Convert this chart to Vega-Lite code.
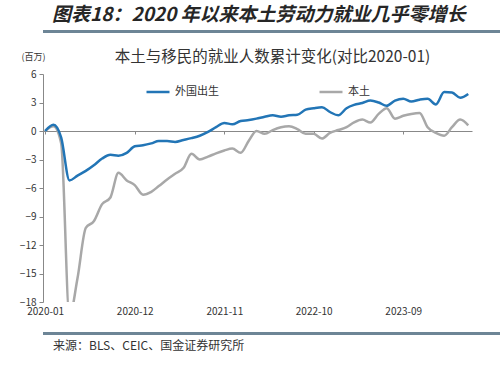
{
  "$schema": "https://vega.github.io/schema/vega-lite/v6.json",
  "background": "white",
  "padding": {"left": 0, "top": 6, "right": 5, "bottom": 5},
  "spacing": 16,
  "resolve": {"scale": {"color": "independent"}, "legend": {"color": "independent"}},
  "config": {
    "font": "Noto Sans CJK SC"
  },
  "vconcat": [
    {
      "width": 495,
      "height": 3,
      "data": {"values": [{"x0": 0, "x1": 1}]},
      "view": {"stroke": null, "fill": "#6d8596"},
      "title": {"text": "图表18：2020 年以来本土劳动力就业几乎零增长", "anchor": "start", "frame": "group", "dx": 9, "fontSize": 19, "fontWeight": "bold", "fontStyle": "italic", "color": "#262626", "offset": 5},
      "mark": {"type": "rect", "color": "#6d8596"},
      "encoding": {
        "x": {"field": "x0", "type": "quantitative", "scale": {"domain": [0, 1], "nice": false}, "axis": null},
        "x2": {"field": "x1"}
      }
    },
    {
      "width": 429,
      "height": 228,
      "view": {"stroke": null},
      "data": {"values": [
        {"m": "2020-01-01", "本土": 0, "外国出生": 0},
        {"m": "2020-02-01", "本土": 0.5, "外国出生": 0.65},
        {"m": "2020-03-01", "本土": -1.3, "外国出生": -0.7},
        {"m": "2020-04-01", "本土": -19.5, "外国出生": -5.2},
        {"m": "2020-05-01", "本土": -15.5, "外国出生": -4.7},
        {"m": "2020-06-01", "本土": -10.2, "外国出生": -4.2},
        {"m": "2020-07-01", "本土": -9.5, "外国出生": -3.6},
        {"m": "2020-08-01", "本土": -7.7, "外国出生": -2.9},
        {"m": "2020-09-01", "本土": -7.0, "外国出生": -2.5},
        {"m": "2020-10-01", "本土": -4.4, "外国出生": -2.6},
        {"m": "2020-11-01", "本土": -5.2, "外国出生": -2.3},
        {"m": "2020-12-01", "本土": -5.7, "外国出生": -1.6},
        {"m": "2021-01-01", "本土": -6.7, "外国出生": -1.5},
        {"m": "2021-02-01", "本土": -6.4, "外国出生": -1.3},
        {"m": "2021-03-01", "本土": -5.8, "外国出生": -1.05},
        {"m": "2021-04-01", "本土": -5.1, "外国出生": -1.05},
        {"m": "2021-05-01", "本土": -4.5, "外国出生": -1.15},
        {"m": "2021-06-01", "本土": -3.9, "外国出生": -0.95},
        {"m": "2021-07-01", "本土": -2.4, "外国出生": -0.75},
        {"m": "2021-08-01", "本土": -3.0, "外国出生": -0.5},
        {"m": "2021-09-01", "本土": -2.7, "外国出生": -0.1},
        {"m": "2021-10-01", "本土": -2.35, "外国出生": 0.4},
        {"m": "2021-11-01", "本土": -2.05, "外国出生": 0.85},
        {"m": "2021-12-01", "本土": -1.85, "外国出生": 0.7},
        {"m": "2022-01-01", "本土": -2.3, "外国出生": 1.05},
        {"m": "2022-02-01", "本土": -1.0, "外国出生": 1.15},
        {"m": "2022-03-01", "本土": 0.0, "外国出生": 1.3},
        {"m": "2022-04-01", "本土": -0.3, "外国出生": 1.5},
        {"m": "2022-05-01", "本土": 0.1, "外国出生": 1.65},
        {"m": "2022-06-01", "本土": 0.4, "外国出生": 1.5},
        {"m": "2022-07-01", "本土": 0.5, "外国出生": 1.65},
        {"m": "2022-08-01", "本土": 0.2, "外国出生": 1.7},
        {"m": "2022-09-01", "本土": -0.3, "外国出生": 2.25},
        {"m": "2022-10-01", "本土": -0.3, "外国出生": 2.4},
        {"m": "2022-11-01", "本土": -0.8, "外国出生": 2.5},
        {"m": "2022-12-01", "本土": -0.2, "外国出生": 2.0},
        {"m": "2023-01-01", "本土": 0.1, "外国出生": 1.65},
        {"m": "2023-02-01", "本土": 0.4, "外国出生": 2.4},
        {"m": "2023-03-01", "本土": 0.9, "外国出生": 2.75},
        {"m": "2023-04-01", "本土": 1.2, "外国出生": 2.95},
        {"m": "2023-05-01", "本土": 0.9, "外国出生": 3.2},
        {"m": "2023-06-01", "本土": 1.8, "外国出生": 3.0},
        {"m": "2023-07-01", "本土": 2.4, "外国出生": 2.65},
        {"m": "2023-08-01", "本土": 1.3, "外国出生": 3.2},
        {"m": "2023-09-01", "本土": 1.6, "外国出生": 3.4},
        {"m": "2023-10-01", "本土": 1.8, "外国出生": 3.1},
        {"m": "2023-11-01", "本土": 1.9, "外国出生": 3.3},
        {"m": "2023-12-01", "本土": 0.4, "外国出生": 3.4},
        {"m": "2024-01-01", "本土": -0.2, "外国出生": 2.8},
        {"m": "2024-02-01", "本土": -0.5, "外国出生": 4.1},
        {"m": "2024-03-01", "本土": 0.4, "外国出生": 4.05},
        {"m": "2024-04-01", "本土": 1.2, "外国出生": 3.5},
        {"m": "2024-05-01", "本土": 0.6, "外国出生": 3.9}
      ]},
      "transform": [{"fold": ["本土", "外国出生"], "as": ["series", "value"]}],
      "title": {"text": "本土与移民的就业人数累计变化(对比2020-01)", "anchor": "middle", "frame": "group", "fontSize": 15.5, "fontWeight": "normal", "color": "#333333", "dx": 15, "offset": -13},
      "mark": {"type": "line", "strokeWidth": 2.5, "interpolate": "monotone", "clip": true},
      "encoding": {
        "x": {
          "field": "m",
          "type": "temporal",
          "scale": {"type": "utc", "domain": [{"year": 2019, "month": 12, "date": 24, "utc": true}, {"year": 2024, "month": 5, "date": 15, "utc": true}]},
          "axis": {
            "orient": "bottom",
            "offset": -171,
            "values": [
              {"year": 2020, "month": 1, "date": 1, "utc": true},
              {"year": 2020, "month": 12, "date": 1, "utc": true},
              {"year": 2021, "month": 11, "date": 1, "utc": true},
              {"year": 2022, "month": 10, "date": 1, "utc": true},
              {"year": 2023, "month": 9, "date": 1, "utc": true}
            ],
            "format": "%Y-%m",
            "domainColor": "#888888",
            "domainWidth": 1,
            "tickColor": "#888888",
            "tickSize": 3,
            "labelPadding": 172,
            "labelFontSize": 10,
            "labelColor": "#333333",
            "labelFlush": false,
            "labelOverlap": false,
            "grid": false,
            "title": null
          }
        },
        "y": {
          "field": "value",
          "type": "quantitative",
          "scale": {"domain": [-18, 6], "nice": false, "zero": false},
          "axis": {
            "values": [-18, -15, -12, -9, -6, -3, 0, 3, 6],
            "domainColor": "#888888",
            "tickColor": "#888888",
            "tickSize": 4,
            "labelPadding": 3,
            "labelFontSize": 10,
            "labelColor": "#333333",
            "grid": false,
            "title": "(百万)",
            "titleAngle": 0,
            "titleX": -10,
            "titleY": -18,
            "titleAlign": "center",
            "titleBaseline": "middle",
            "titleFontSize": 9,
            "titleFontWeight": "normal",
            "titleColor": "#333333",
            "minExtent": 43,
            "maxExtent": 43
          }
        },
        "color": {
          "field": "series",
          "type": "nominal",
          "scale": {"domain": ["外国出生", "本土"], "range": ["#2275b6", "#a8a8a8"]},
          "legend": {
            "orient": "none",
            "legendX": 102,
            "legendY": 5,
            "direction": "horizontal",
            "title": null,
            "symbolType": "stroke",
            "symbolSize": 529,
            "symbolStrokeWidth": 2.5,
            "labelFontSize": 11,
            "labelColor": "#333333",
            "labelOffset": 4,
            "columnPadding": 95
          }
        }
      }
    },
    {
      "width": 495,
      "height": 3,
      "data": {"values": [{"x0": 0, "x1": 1}]},
      "view": {"stroke": null, "fill": "#6d8596"},
      "title": {"text": "来源：BLS、CEIC、国金证券研究所", "orient": "bottom", "anchor": "start", "frame": "group", "dx": 10, "fontSize": 12, "fontWeight": "normal", "color": "#333333", "offset": 6},
      "mark": {"type": "rect", "color": "#6d8596"},
      "encoding": {
        "x": {"field": "x0", "type": "quantitative", "scale": {"domain": [0, 1], "nice": false}, "axis": null},
        "x2": {"field": "x1"}
      }
    }
  ]
}
